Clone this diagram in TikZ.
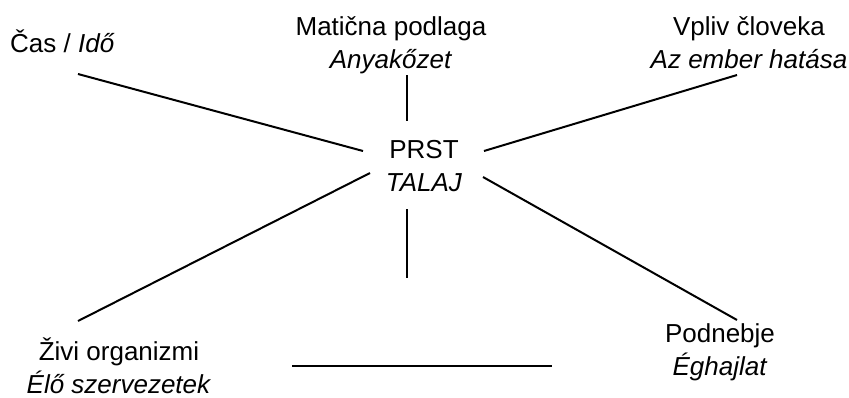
\documentclass[tikz,border=0pt]{standalone}
\usepackage{fontspec}
\setmainfont{Liberation Sans}

\begin{document}
\begin{tikzpicture}[x=1pt,y=-1pt]
    \useasboundingbox (0,0) rectangle (849,397);
    \begin{scope}[font=\fontsize{26}{33}\selectfont,inner sep=0pt]
    \node [anchor=base west] (cas) at (10,52) {Čas / \textit{Idő}};
    \node [anchor=base,align=center] (matica) at (391,68) {Matična podlaga\\\textit{Anyakőzet}};
    \node [anchor=base,align=center] (vpliv) at (749,68) {Vpliv človeka\\\textit{Az ember hatása}};
    \node [anchor=base,align=center] (prst) at (424,191) {PRST\\\textit{TALAJ}};
    \node [anchor=base,align=center] (zivi) at (119,393) {Živi organizmi\\\textit{Élő szervezetek}};
    \node [anchor=base,align=center] (podnebje) at (720,375) {Podnebje\\\textit{Éghajlat}};
    \end{scope}
    \coordinate (cas end) at (78,74);
    \coordinate (matica end) at (407,75);
    \coordinate (vpliv end) at (737,75);
    \coordinate (zivi end) at (78,321);
    \coordinate (podnebje end) at (737,320);
    \coordinate (prst nw) at (363,151);
    \coordinate (prst n) at (407,121);
    \coordinate (prst ne) at (484,151);
    \coordinate (prst sw) at (370,173);
    \coordinate (prst se) at (483,177);
    \coordinate (prst s) at (407,209);
    \coordinate (stub s) at (407,278);
    \coordinate (base l) at (292,366);
    \coordinate (base r) at (552,366);
    \begin{scope}[line width=2pt]
    \draw (cas end) -- (prst nw);
    \draw (matica end) -- (prst n);
    \draw (vpliv end) -- (prst ne);
    \draw (zivi end) -- (prst sw);
    \draw (podnebje end) -- (prst se);
    \draw (prst s) -- (stub s);
    \draw (base l) -- (base r);
    \end{scope}
\end{tikzpicture}
\end{document}
